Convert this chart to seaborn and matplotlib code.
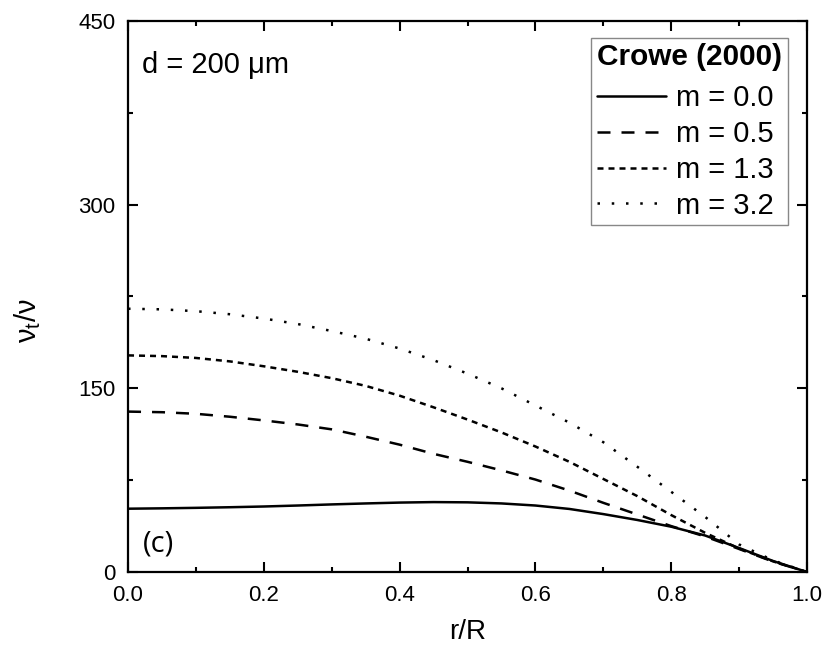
import numpy as np
import pandas as pd
import matplotlib
matplotlib.use("Agg")
import matplotlib.pyplot as plt
import seaborn as sns

# ---- data ----
r_over_R = [0.00, 0.05, 0.10, 0.15, 0.20, 0.25, 0.30, 0.35, 0.40, 0.45, 0.50,
            0.55, 0.60, 0.65, 0.70, 0.75, 0.80, 0.85, 0.90, 0.95, 1.00]
m_00 = [51.7, 52.0, 52.4, 52.9, 53.5, 54.3, 55.2, 56.0, 56.7, 57.1, 56.9,
        56.0, 54.3, 51.5, 47.3, 42.5, 37.0, 29.8, 19.6, 9.0, 0.0]
m_05 = [131.0, 130.5, 129.2, 126.8, 123.8, 120.5, 116.5, 110.5, 104.0, 96.5, 90.0,
        83.0, 75.5, 66.5, 56.5, 47.0, 37.5, 29.0, 18.8, 8.5, 0.0]
m_13 = [176.9, 176.3, 174.8, 172.0, 168.0, 163.5, 158.3, 152.0, 144.0, 134.5, 124.5,
        114.0, 102.5, 90.0, 76.0, 62.0, 46.5, 32.0, 19.2, 8.7, 0.0]
m_32 = [215.0, 214.5, 213.0, 210.5, 207.0, 202.5, 196.8, 190.5, 182.5, 173.0, 162.0,
        150.0, 136.0, 122.0, 106.0, 86.0, 65.5, 45.0, 22.5, 9.5, 0.0]
series_labels = ["m = 0.0", "m = 0.5", "m = 1.3", "m = 3.2"]
x_ticks = [0.0, 0.2, 0.4, 0.6, 0.8, 1.0]
y_ticks = [0, 150, 300, 450]

df = pd.concat([
    pd.DataFrame({"r": r_over_R, "v": vals, "m": lab})
    for vals, lab in zip([m_00, m_05, m_13, m_32], series_labels)
], ignore_index=True)

sns.set_style("ticks")
plt.rcParams["font.family"] = ["Liberation Sans", "DejaVu Sans"]
plt.rcParams["mathtext.default"] = "regular"
plt.rcParams["text.color"] = "black"
plt.rcParams["axes.labelcolor"] = "black"
plt.rcParams["xtick.color"] = "black"
plt.rcParams["ytick.color"] = "black"

fig = plt.figure(figsize=(8.26, 6.55), dpi=100)
ax = fig.add_axes([0.155, 0.1267, 0.822, 0.8413])

dash_map = {
    "m = 0.0": "",
    "m = 0.5": (5.2, 4.4),
    "m = 1.3": (2.4, 2.0),
    "m = 3.2": (1.0, 4.7),
}
sns.lineplot(data=df, x="r", y="v", style="m", dashes=dash_map,
             color="black", linewidth=1.8, ax=ax, legend=True)

ax.set_xlim(0, 1.0)
ax.set_ylim(0, 450)
ax.set_xticks(x_ticks)
ax.set_yticks(y_ticks)
ax.set_xticklabels([f"{t:.1f}" for t in x_ticks])
ax.set_yticklabels([str(t) for t in y_ticks])
ax.xaxis.set_minor_locator(matplotlib.ticker.MultipleLocator(0.1))
ax.yaxis.set_minor_locator(matplotlib.ticker.MultipleLocator(75))
ax.tick_params(which="both", direction="in", top=True, right=True,
               width=1.5, color="black", labelcolor="black")
ax.tick_params(which="major", length=7.2, labelsize=16)
ax.tick_params(axis="x", which="major", pad=9)
ax.tick_params(axis="y", which="major", pad=9)
ax.tick_params(which="minor", length=3.8)
for s in ax.spines.values():
    s.set_linewidth(1.6)
    s.set_color("black")

ax.set_xlabel("r/R", fontsize=20, labelpad=10)
ax.set_ylabel(r"$\nu_t/\nu$", fontsize=21)
ax.yaxis.set_label_coords(-0.125, 0.457)

ax.text(0.021, 0.905, "d = 200 μm", transform=ax.transAxes, fontsize=21,
        ha="left", va="baseline")
ax.text(0.022, 0.037, "(c)", transform=ax.transAxes, fontsize=21,
        family=["Open Sans", "DejaVu Sans"], ha="left", va="baseline")

handles, labels = ax.get_legend_handles_labels()
leg = ax.legend(handles, labels, title="Crowe (2000)", loc="upper right",
                bbox_to_anchor=(0.972, 0.9697), borderaxespad=0,
                fontsize=21, title_fontsize=21.4, frameon=True, fancybox=False,
                handlelength=2.36, handletextpad=0.34, labelspacing=0.27,
                borderpad=0.2, framealpha=1)
leg.get_title().set_fontweight("bold")
leg.get_frame().set_edgecolor("#888888")
leg.get_frame().set_linewidth(1.0)
leg._legend_box.align = "left"
leg._legend_box.sep = 9

fig.savefig("out.png", dpi=100)
